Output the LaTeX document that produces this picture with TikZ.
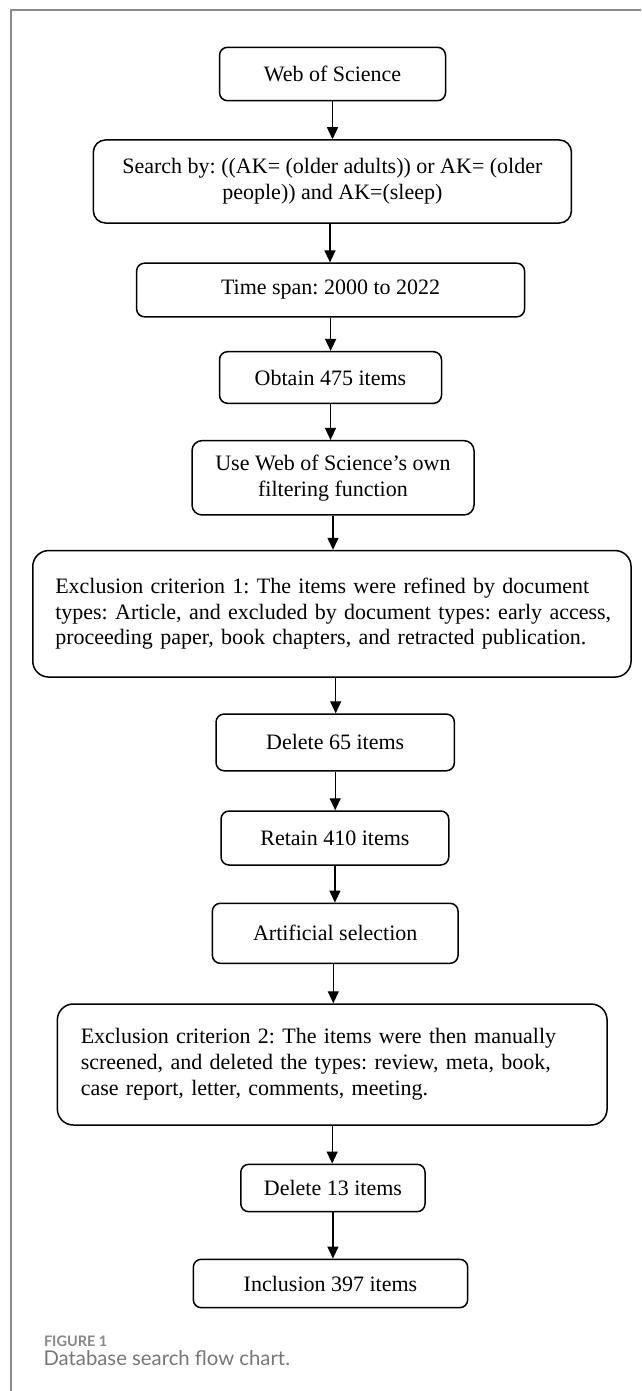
\documentclass[tikz,border=0pt]{standalone}
\usepackage{fontspec}
\setmainfont{Liberation Serif}
\newfontfamily\capfont{Lato}
\usetikzlibrary{arrows.meta}
\definecolor{framegray}{HTML}{8C8C8C}
\definecolor{capgray}{HTML}{777777}
\definecolor{labgray}{HTML}{888888}
\frenchspacing
\begin{document}
\begin{tikzpicture}[x=1pt,y=-1pt,
  box/.style={draw, line width=1.5pt, rounded corners=8pt, inner sep=0pt,
    align=center, font=\fontsize{22}{25.8}\selectfont},
  bigbox/.style={box, rounded corners=16pt, align=left},
  arr/.style={line width=1.3pt, -{Triangle[length=12pt,width=11pt]}}
]
\useasboundingbox[fill=white] (0,0) rectangle (641,1391);
\draw[framegray, line width=1.7pt] (11,1391) -- (11,10) -- (641,10);

\node[box, minimum width=226pt, minimum height=53.4pt] (wos) at (332.5,74) {Web of Science};
\node[box, rounded corners=12pt, minimum width=478pt, minimum height=83pt] (search) at (332.4,181.5)
  {Search by: ((AK= (older adults)) or AK= (older\\people)) and AK=(sleep)};
\node[box, minimum width=388pt, minimum height=53.7pt] (time) at (330.6,290) {Time span: 2000 to 2022};
\node[box, minimum width=222pt, minimum height=51.6pt] (obtain) at (330.5,377.5) {Obtain 475 items};
\node[box, rounded corners=10pt, minimum width=282pt, minimum height=74.3pt] (usewos) at (333,477.8)
  {Use Web of Science's own\\filtering function};
\node[bigbox, inner xsep=22.5pt, text width=553.3pt, minimum height=126.5pt] (ex1) at (331.9,613.8)
  {\mbox{Exclusion criterion 1: The items were refined by document}\\\mbox{types: Article, and excluded by document types: early access,}\\\mbox{proceeding paper, book chapters, and retracted publication.}};
\node[box, minimum width=238.3pt, minimum height=56.7pt] (del65) at (335.2,742.4) {Delete 65 items};
\node[box, minimum width=227.7pt, minimum height=54pt] (retain) at (334.9,838) {Retain 410 items};
\node[box, minimum width=245.7pt, minimum height=60pt] (artif) at (335.2,933.3) {Artificial selection};
\node[bigbox, inner xsep=23.4pt, text width=502.9pt, minimum height=121pt] (ex2) at (332.2,1064.5)
  {\mbox{Exclusion criterion 2: The items were then manually}\\\mbox{screened, and deleted the types: review, meta, book,}\\\mbox{case report, letter, comments, meeting.}};
\node[box, minimum width=184.3pt, minimum height=47.4pt] (del13) at (332.9,1188) {Delete 13 items};
\node[box, minimum width=274.4pt, minimum height=48.4pt] (incl) at (330.5,1283.5) {Inclusion 397 items};

\draw[arr] (wos.south) -- (wos.south |- search.north);
\draw[arr] ([xshift=-2.4pt]search.south) -- ([xshift=-2.4pt]search.south |- time.north);
\draw[arr] (time.south) -- (time.south |- obtain.north);
\draw[arr] (obtain.south) -- (obtain.south |- usewos.north);
\draw[arr] (usewos.south) -- (usewos.south |- ex1.north);
\draw[arr] ([xshift=3.8pt]ex1.south) -- ([xshift=3.8pt]ex1.south |- del65.north);
\draw[arr] (del65.south) -- (del65.south |- retain.north);
\draw[arr] (retain.south) -- (retain.south |- artif.north);
\draw[arr] ([xshift=-1.9pt]artif.south) -- ([xshift=-1.9pt]artif.south |- ex2.north);
\draw[arr] (ex2.south) -- (ex2.south |- del13.north);
\draw[arr] (del13.south) -- (del13.south |- incl.north);

\node[anchor=base west, inner sep=0pt, font=\capfont\bfseries\fontsize{14.5}{16}\selectfont, text=labgray] (figlabel) at (43.8,1346) {FIGURE 1};
\node[anchor=base west, inner sep=0pt, font=\capfont\fontsize{20.3}{23}\selectfont, text=capgray] (caption) at (43.3,1365.5) {Database search flow chart.};
\end{tikzpicture}
\end{document}
